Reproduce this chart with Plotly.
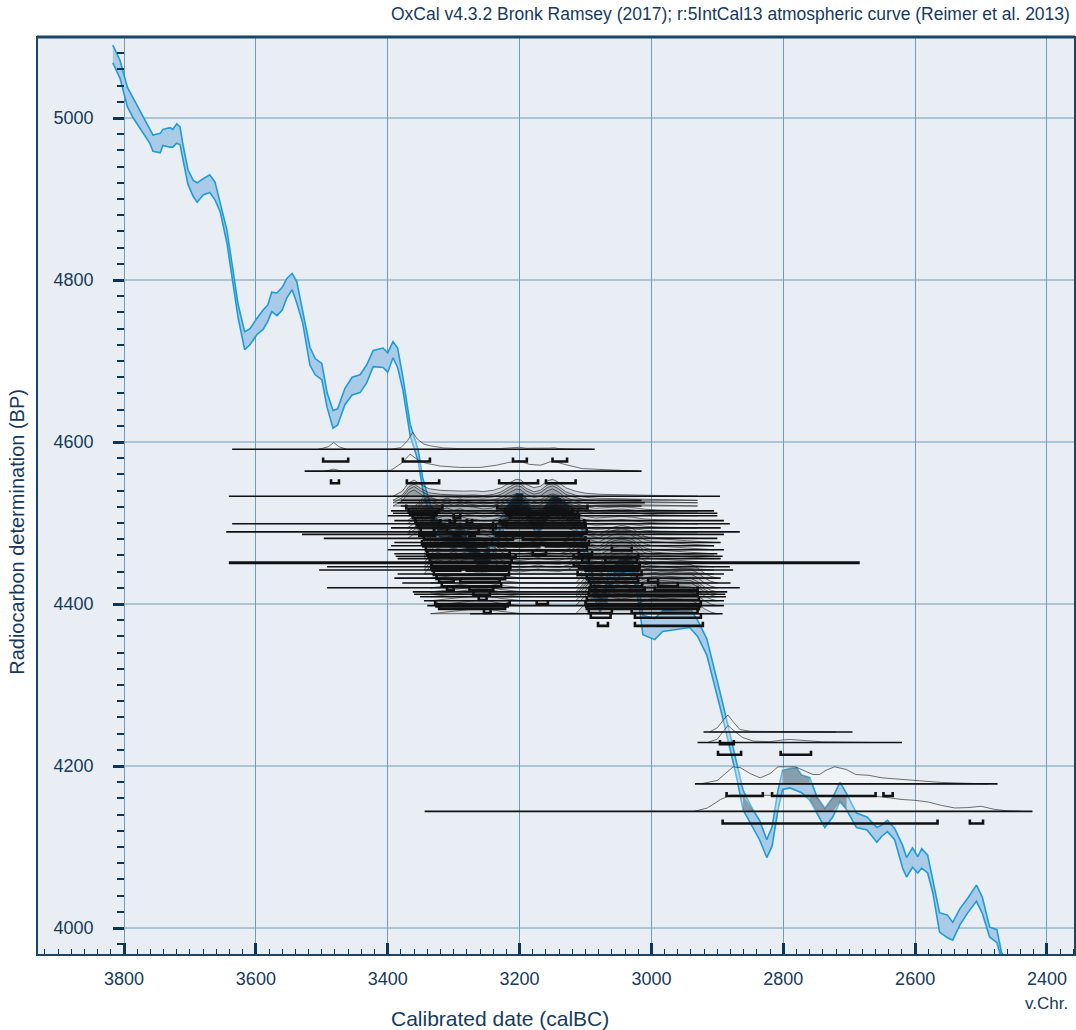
import numpy as np
import plotly.graph_objects as go

# ---------------- calibration curve (IntCal13 as drawn) ----------------
CAL_BC = [3817, 3806, 3795, 3786, 3776, 3761, 3756, 3745, 3741, 3730, 3726, 3720, 3715, 3711,
          3703, 3695, 3689, 3680, 3670, 3662, 3654, 3644, 3636, 3627, 3617, 3609, 3598, 3589,
          3582, 3576, 3568, 3560, 3553, 3545, 3538, 3529, 3518, 3510, 3500, 3492, 3483, 3476,
          3465, 3454, 3442, 3432, 3422, 3407, 3400, 3392, 3385, 3377, 3366, 3354, 3347, 3336,
          3325, 3312, 3300, 3290, 3280, 3268, 3257, 3245, 3232, 3218, 3205, 3195, 3185, 3172,
          3162, 3150, 3138, 3125, 3110, 3098, 3088, 3078, 3068, 3058, 3045, 3035, 3025, 3018,
          3013, 2995, 2983, 2962, 2942, 2930, 2916, 2892, 2871, 2861, 2846, 2836, 2825, 2817,
          2808, 2801, 2790, 2780, 2772, 2760, 2749, 2737, 2725, 2714, 2704, 2689, 2673, 2658,
          2651, 2642, 2631, 2619, 2613, 2604, 2596, 2590, 2581, 2573, 2563, 2551, 2543, 2532,
          2520, 2507, 2498, 2487, 2476, 2469, 2460]
CURVE_BP = [5079, 5060, 5026, 5012, 4999, 4978, 4969, 4969, 4976, 4976, 4975, 4981, 4978, 4959,
            4927, 4913, 4908, 4915, 4919, 4910, 4890, 4854, 4810, 4762, 4725, 4730, 4743, 4751,
            4759, 4773, 4770, 4777, 4790, 4798, 4785, 4755, 4706, 4693, 4687, 4652, 4628, 4631,
            4656, 4669, 4672, 4684, 4703, 4704, 4698, 4714, 4704, 4672, 4615, 4584, 4549, 4516,
            4495, 4488, 4478, 4488, 4478, 4462, 4450, 4462, 4490, 4512, 4526, 4526, 4510, 4495,
            4510, 4524, 4520, 4512, 4498, 4460, 4420, 4400, 4415, 4435, 4448, 4450, 4435, 4405,
            4374, 4369, 4379, 4381, 4383, 4370, 4347, 4269, 4195, 4158, 4135, 4121, 4098, 4113,
            4158, 4183, 4185, 4184, 4178, 4172, 4152, 4136, 4149, 4168, 4156, 4133, 4129, 4115,
            4120, 4126, 4116, 4088, 4075, 4087, 4078, 4086, 4079, 4051, 4007, 4002, 3996, 4014,
            4028, 4043, 4028, 3995, 3990, 3966, 3950]
CURVE_ERR = [11, 11, 12, 12, 11, 9, 10, 12, 10, 12, 11, 12, 11, 10,
             9, 10, 12, 10, 11, 11, 6, 8, 9, 8, 11, 10, 10, 12,
             10, 12, 14, 14, 12, 10, 13, 8, 11, 10, 10, 9, 11, 10,
             10, 11, 11, 11, 10, 12, 12, 10, 12, 8, 7, 7, 7, 8,
             10, 10, 10, 10, 10, 10, 10, 10, 10, 10, 10, 10, 10, 10,
             10, 10, 10, 10, 10, 9, 9, 10, 10, 10, 10, 10, 10, 10,
             12, 13, 13, 12, 12, 10, 10, 9, 8, 12, 11, 12, 11, 12,
             12, 12, 12, 14, 11, 14, 10, 12, 12, 12, 10, 9, 8, 9,
             7, 7, 7, 14, 12, 12, 10, 12, 11, 8, 12, 14, 11, 10,
             9, 10, 10, 6, 8, 4, 8]

# ---------------- distribution shapes (relative heights) ----------------
SHAPE_D1_YRS = [3505, 3490, 3482, 3474, 3462, 3395, 3380, 3370, 3362, 3355, 3345, 3335, 3315, 3290,
                3230, 3210, 3200, 3190, 3165, 3155, 3148, 3140, 3120, 3090]
SHAPE_D1_H = [0, 0.15, 0.4, 0.15, 0, 0, 0.1, 0.5, 1.0, 0.6, 0.3, 0.2, 0.08, 0.04,
              0.04, 0.08, 0.12, 0.06, 0.04, 0.07, 0.09, 0.04, 0.01, 0]
SHAPE_D2_YRS = [3495, 3482, 3470, 3395, 3378, 3366, 3352, 3340, 3320, 3290, 3260, 3235, 3218, 3200,
                3185, 3168, 3150, 3132, 3105, 3060, 3020]
SHAPE_D2_H = [0, 0.12, 0, 0.05, 0.5, 1.0, 0.6, 0.45, 0.3, 0.22, 0.22, 0.35, 0.5, 0.6,
              0.4, 0.35, 0.6, 0.4, 0.15, 0.05, 0]
SHAPE_A_YRS = [3392, 3378, 3368, 3360, 3350, 3338, 3320, 3300, 3285, 3270, 3255, 3240, 3228, 3215,
               3205, 3198, 3190, 3178, 3168, 3158, 3150, 3142, 3130, 3115, 3100, 3080, 3060, 3040,
               3020, 3000, 2970, 2930]
SHAPE_A_H = [0, 0.3, 0.8, 0.95, 0.7, 0.45, 0.35, 0.3, 0.3, 0.32, 0.28, 0.35, 0.5, 0.8,
             1.0, 0.95, 0.7, 0.5, 0.6, 0.9, 1.0, 0.85, 0.5, 0.3, 0.18, 0.12, 0.1, 0.1,
             0.06, 0.04, 0.02, 0]
SHAPE_B_YRS = [3370, 3355, 3345, 3335, 3322, 3310, 3300, 3290, 3280, 3268, 3255, 3242, 3230, 3218,
               3205, 3198, 3188, 3178, 3168, 3158, 3150, 3140, 3128, 3115, 3100, 3085, 3065, 3045,
               3030, 3010, 2990, 2960, 2930]
SHAPE_B_H = [0, 0.4, 0.85, 0.8, 0.6, 0.75, 0.6, 0.7, 0.55, 0.5, 0.4, 0.45, 0.6, 0.85,
             1.0, 0.95, 0.7, 0.55, 0.65, 0.9, 1.0, 0.9, 0.6, 0.45, 0.25, 0.15, 0.2, 0.25,
             0.2, 0.1, 0.05, 0.02, 0]
SHAPE_C_YRS = [3345, 3335, 3325, 3312, 3300, 3292, 3282, 3270, 3260, 3250, 3240, 3228, 3215, 3200,
               3185, 3172, 3160, 3140, 3125, 3112, 3100, 3090, 3080, 3068, 3058, 3045, 3032, 3020,
               3010, 3000, 2985, 2965, 2945, 2925, 2905]
SHAPE_C_H = [0, 0.5, 0.85, 0.7, 0.9, 0.75, 0.85, 1.0, 0.95, 0.85, 0.7, 0.4, 0.2, 0.12,
             0.2, 0.3, 0.2, 0.15, 0.3, 0.6, 0.7, 0.55, 0.45, 0.7, 0.9, 1.0, 0.9, 0.6,
             0.35, 0.25, 0.2, 0.15, 0.1, 0.05, 0]
SHAPE_D_YRS = [3335, 3310, 3285, 3265, 3250, 3230, 3200, 3115, 3105, 3095, 3085, 3075, 3065, 3055,
               3045, 3035, 3025, 3015, 3005, 2995, 2985, 2970, 2955, 2940, 2930, 2920, 2910, 2900]
SHAPE_D_H = [0, 0.12, 0.2, 0.3, 0.3, 0.15, 0.02, 0, 0.4, 0.8, 1.0, 0.9, 0.6, 0.45,
             0.4, 0.45, 0.55, 0.7, 0.85, 0.9, 0.95, 0.9, 0.85, 0.8, 0.6, 0.3, 0.1, 0]
SHAPE_L1_YRS = [2912, 2900, 2890, 2884, 2876, 2866, 2850, 2820, 2790, 2760, 2720]
SHAPE_L1_H = [0, 0.25, 0.75, 1.0, 0.6, 0.15, 0.04, 0.02, 0.02, 0.01, 0]
SHAPE_L2_YRS = [2915, 2900, 2890, 2884, 2875, 2862, 2845, 2820, 2800, 2790, 2775, 2760, 2740, 2700, 2660]
SHAPE_L2_H = [0, 0.2, 0.7, 1.0, 0.7, 0.3, 0.08, 0.05, 0.15, 0.18, 0.14, 0.08, 0.04, 0.02, 0]
SHAPE_L3_YRS = [2925, 2900, 2888, 2876, 2865, 2850, 2835, 2820, 2808, 2795, 2782, 2770, 2755, 2745,
                2735, 2722, 2705, 2690, 2670, 2650, 2620, 2590, 2560, 2520, 2490]
SHAPE_L3_H = [0, 0.2, 0.6, 1.0, 0.95, 0.6, 0.35, 0.6, 1.0, 1.0, 1.0, 0.8, 0.55, 0.55,
              0.8, 1.0, 0.85, 0.55, 0.5, 0.35, 0.25, 0.15, 0.08, 0.03, 0]
SHAPE_L4_YRS = [2935, 2915, 2895, 2880, 2860, 2830, 2800, 2760, 2720, 2680, 2650, 2620, 2600, 2580,
                2560, 2540, 2520, 2500, 2480, 2460, 2440]
SHAPE_L4_H = [0, 0.2, 0.7, 0.95, 0.95, 0.95, 0.95, 0.95, 0.95, 0.93, 0.85, 0.7, 0.65, 0.55,
              0.35, 0.2, 0.22, 0.3, 0.12, 0.03, 0]

# ---------------- radiocarbon determinations ----------------
DATE_BP = [4591, 4564, 4533, 4528, 4525, 4521, 4515, 4512, 4509, 4503, 4499, 4494, 4489, 4486,
           4481, 4476, 4472, 4467, 4462, 4459, 4456, 4451, 4446, 4442, 4437, 4432, 4426, 4420,
           4415, 4412, 4409, 4404, 4398, 4388, 4242, 4229, 4178, 4144]
LINE_FROM = [3636, 3526, 3641, 3380, 3385, 3380, 3395, 3392, 3400, 3390, 3636, 3395, 3645, 3530,
             3497, 3390, 3395, 3400, 3390, 3388, 3385, 3641, 3492, 3504, 3385, 3390, 3378, 3492,
             3362, 3360, 3351, 3345, 3340, 3275, 2921, 2930, 2934, 3344]
LINE_TO = [3086, 3015, 2896, 3015, 3010, 3015, 2905, 2900, 2900, 2890, 2881, 2895, 2866, 2890,
           2900, 2895, 2905, 2890, 2900, 2892, 2895, 2684, 2881, 2876, 2890, 2895, 2880, 2866,
           2885, 2888, 2887, 2890, 2890, 2892, 2695, 2620, 2475, 2422]
DATE_SHAPE = ["D1", "D2", "A", "A", "A", "A", "B", "B", "B", "B", "B", "B", "B", "B",
              "B", "C", "C", "C", "C", "C", "C", "C", "C", "C", "C", "D", "D", "D",
              "D", "D", "D", "D", "D", "D", "L1", "L2", "L3", "L4"]
# 95.4% ranges drawn as brackets (calBC from, to)
DATE_RANGES = [
    [[3498, 3460], [3377, 3336], [3210, 3189], [3150, 3128]],
    [[3486, 3474], [3371, 3322], [3231, 3172], [3160, 3115]],
    [[3372, 3317], [3234, 3097]],
    [[3368, 3322], [3222, 3120]],
    [[3366, 3326], [3220, 3112]],
    [[3362, 3330], [3300, 3290], [3215, 3110]],
    [[3358, 3320], [3306, 3298], [3280, 3272], [3230, 3102]],
    [[3356, 3240], [3226, 3100]],
    [[3354, 3236], [3220, 3100]],
    [[3350, 3330], [3310, 3262], [3240, 3098]],
    [[3352, 3328], [3300, 3290], [3276, 3268], [3236, 3105]],
    [[3345, 3210], [3195, 3100]],
    [[3348, 3095]],
    [[3346, 3250], [3232, 3170], [3160, 3098]],
    [[3342, 3098], [3060, 3030]],
    [[3340, 3215], [3180, 3160], [3110, 3090]],
    [[3338, 3206], [3118, 3020]],
    [[3336, 3212], [3105, 3095], [3070, 3022]],
    [[3334, 3215], [3118, 3018]],
    [[3334, 3214], [3110, 3018]],
    [[3332, 3290], [3280, 3220], [3100, 3020]],
    [[3330, 3216], [3112, 3015]],
    [[3326, 3222], [3098, 3022]],
    [[3322, 3300], [3290, 3230], [3095, 3020], [3005, 2990]],
    [[3318, 3228], [3092, 3014], [2990, 2960]],
    [[3310, 3300], [3276, 3240], [3094, 3010], [2995, 2930]],
    [[3270, 3245], [3095, 2930]],
    [[3262, 3250], [3098, 2928]],
    [[3328, 3215], [3174, 3157], [3100, 2925]],
    [[3326, 3218], [3099, 2926]],
    [[3322, 3222], [3098, 2928]],
    [[3254, 3244], [3095, 3060], [3030, 2930]],
    [[3092, 3062], [3025, 2925]],
    [[3081, 3066], [3025, 2922]],
    [[2896, 2875]],
    [[2899, 2864], [2804, 2758]],
    [[2886, 2831], [2817, 2660], [2648, 2634]],
    [[2892, 2566], [2517, 2497]],
]

X_TICKS = [3800, 3600, 3400, 3200, 3000, 2800, 2600, 2400]
Y_TICKS = [4000, 4200, 4400, 4600, 4800, 5000]
X_RANGE = [3932, 2357.5]
Y_RANGE = [3966.7, 5100]

NAVY = "#163a5c"
TICKC = "#0d3558"
GRID = "#6f9cba"
FONT = "Liberation Sans"
DIST_HEIGHT = 21      # BP units of a full-height distribution
BRACKET_DROP = 15     # BP units below the baseline
BRACKET_TICK = 5
DENSE = {"A", "B", "C", "D"}

SHAPES = {
    "D1": (SHAPE_D1_YRS, SHAPE_D1_H), "D2": (SHAPE_D2_YRS, SHAPE_D2_H),
    "A": (SHAPE_A_YRS, SHAPE_A_H), "B": (SHAPE_B_YRS, SHAPE_B_H),
    "C": (SHAPE_C_YRS, SHAPE_C_H), "D": (SHAPE_D_YRS, SHAPE_D_H),
    "L1": (SHAPE_L1_YRS, SHAPE_L1_H), "L2": (SHAPE_L2_YRS, SHAPE_L2_H),
    "L3": (SHAPE_L3_YRS, SHAPE_L3_H), "L4": (SHAPE_L4_YRS, SHAPE_L4_H),
}


def height_at(shape, year):
    yrs, hs = SHAPES[shape]
    return float(np.interp(year, yrs[::-1], hs[::-1], left=0, right=0))


fig = go.Figure()

# calibration curve band
lower = [b - e for b, e in zip(CURVE_BP, CURVE_ERR)]
upper = [b + e for b, e in zip(CURVE_BP, CURVE_ERR)]
fig.add_trace(go.Scatter(x=CAL_BC + CAL_BC[::-1], y=upper + lower[::-1], mode="lines",
                         fill="toself", fillcolor="#a9cbe7",
                         line=dict(color="#1f9bd7", width=1.6), hoverinfo="skip"))

# distributions
for i, bp in enumerate(DATE_BP):
    shp = DATE_SHAPE[i]
    yrs, hs = SHAPES[shp]
    px = list(yrs) + list(yrs)[::-1]
    py = [bp + h * DIST_HEIGHT for h in hs] + [bp] * len(yrs)
    fill = "rgba(60,64,70,0.14)" if shp in DENSE else "rgba(255,255,255,0.3)"
    fig.add_trace(go.Scatter(x=px, y=py, mode="lines", fill="toself", fillcolor=fill,
                             line=dict(color="rgba(35,35,35,0.8)", width=0.8),
                             hoverinfo="skip"))

# where a distribution lies over the curve band the band shows through darker
for i, bp in enumerate(DATE_BP):
    ox, oy = [], []
    for j in range(len(CAL_BC) - 1):
        seg = []
        for k in (j, j + 1):
            top = bp + DIST_HEIGHT * height_at(DATE_SHAPE[i], CAL_BC[k])
            seg.append((max(lower[k], bp), min(upper[k], top)))
        if all(hi > lo for lo, hi in seg):
            ox += [CAL_BC[j], CAL_BC[j + 1], CAL_BC[j + 1], CAL_BC[j], CAL_BC[j], None]
            oy += [seg[0][0], seg[1][0], seg[1][1], seg[0][1], seg[0][0], None]
    if ox:
        fig.add_trace(go.Scatter(x=ox, y=oy, mode="none", fill="toself",
                                 fillcolor="rgba(20,28,38,0.32)", hoverinfo="skip"))

# baselines
for i, bp in enumerate(DATE_BP):
    fig.add_trace(go.Scatter(x=[LINE_FROM[i], LINE_TO[i]], y=[bp, bp], mode="lines",
                             line=dict(color="#111111", width=3 if bp == 4451 else 1.6),
                             hoverinfo="skip"))

# range brackets
bx, by = [], []
for i, bp in enumerate(DATE_BP):
    yb = bp - BRACKET_DROP
    for a, b in DATE_RANGES[i]:
        bx += [a, a, b, b, None]
        by += [yb + BRACKET_TICK, yb, yb, yb + BRACKET_TICK, None]
fig.add_trace(go.Scatter(x=bx, y=by, mode="lines", line=dict(color="#111111", width=2.6),
                         hoverinfo="skip"))

# y grid lines start at the y axis (3800)
shapes = [dict(type="line", xref="x", yref="y", x0=X_TICKS[0], x1=X_RANGE[1], y0=v, y1=v,
               line=dict(color=GRID, width=1), layer="below") for v in Y_TICKS]
shapes.append(dict(type="rect", xref="paper", yref="paper", x0=0, x1=1, y0=0, y1=1,
                   line=dict(color="#1c4466", width=2)))
shapes.append(dict(type="line", xref="paper", yref="paper", x0=0, x1=1, y0=1, y1=1,
                   line=dict(color="#1c4466", width=3)))

fig.update_layout(
    width=1076, height=1030,
    margin=dict(l=37, r=1, t=37, b=75),
    paper_bgcolor="white", plot_bgcolor="#e8eef3",
    showlegend=False,
    font=dict(family=FONT, color=NAVY),
    shapes=shapes,
    xaxis=dict(range=X_RANGE, tickvals=X_TICKS, ticks="inside", ticklen=12, tickwidth=3,
               tickcolor=TICKC, showgrid=True, gridcolor=GRID, gridwidth=1,
               zeroline=False, showline=False, tickfont=dict(size=18, color=NAVY),
               ticklabelstandoff=11,
               minor=dict(ticks="inside", dtick=20, tick0=2400, ticklen=6, tickwidth=1.3,
                          tickcolor=TICKC, showgrid=False)),
    yaxis=dict(range=Y_RANGE, tickvals=Y_TICKS, ticks="outside", ticklen=11, tickwidth=3,
               tickcolor=TICKC, showgrid=False, zeroline=False, showline=False,
               anchor="free", position=(X_RANGE[0] - X_TICKS[0]) / (X_RANGE[0] - X_RANGE[1]),
               tickfont=dict(size=18, color=NAVY), ticklabelstandoff=16,
               minor=dict(ticks="outside", dtick=20, tick0=4000, ticklen=7, tickwidth=1.5,
                          tickcolor=TICKC, showgrid=False)),
    annotations=[
        dict(text="OxCal v4.3.2 Bronk Ramsey (2017); r:5IntCal13 atmospheric curve (Reimer et al. 2013)",
             xref="paper", yref="paper", x=0.997, y=1.025, xanchor="right", yanchor="middle",
             showarrow=False, font=dict(size=17.5, color=NAVY)),
        dict(text="Calibrated date (calBC)", xref="paper", yref="paper", x=0.446, y=-0.0697,
             xanchor="center", yanchor="middle", showarrow=False, font=dict(size=21, color=NAVY)),
        dict(text="v.Chr.", xref="x", yref="paper", x=X_TICKS[-1], y=-0.0523,
             xanchor="center", yanchor="middle", showarrow=False, font=dict(size=17, color=NAVY)),
        dict(text="Radiocarbon determination (BP)", xref="paper", yref="paper", x=-0.0193, y=0.461,
             xanchor="center", yanchor="middle", textangle=-90, showarrow=False,
             font=dict(size=20, color=NAVY)),
    ],
)

fig.write_html("out.html", config={"displayModeBar": False},
               post_script="document.body.style.margin='0';")
